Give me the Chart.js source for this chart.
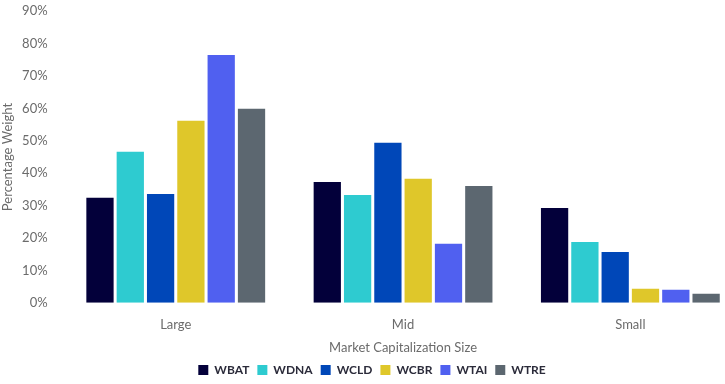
<!DOCTYPE html>
<html>
<head>
<meta charset="utf-8">
<script src="https://cdn.jsdelivr.net/npm/chart.js@4"></script>
<style>
  html, body { margin: 0; padding: 0; background: #fff; overflow: hidden; }
  #wrap { width: 755px; height: 389px; margin-top: -3px; }
</style>
</head>
<body>
<div id="wrap"><canvas id="barChart"></canvas></div>
<script>
// Data
const categories = ["Large", "Mid", "Small"];
const seriesNames = ["WBAT", "WDNA", "WCLD", "WCBR", "WTAI", "WTRE"];
const wbat = [32.4, 37.3, 29.3];
const wdna = [46.6, 33.3, 18.8];
const wcld = [33.6, 49.4, 15.7];
const wcbr = [56.2, 38.3, 4.3];
const wtai = [76.5, 18.2, 4.0];
const wtre = [59.9, 36.1, 2.8];
const seriesColors = ["#03003a", "#2ecbd0", "#0047b8", "#dfc72a", "#5060f0", "#5c6770"];

const seriesValues = [wbat, wdna, wcld, wcbr, wtai, wtre];

Chart.defaults.font.family = "Lato, 'Open Sans', sans-serif";
Chart.defaults.font.size = 13;
Chart.defaults.color = "#6b6b6b";

const barCtx = document.getElementById("barChart").getContext("2d");
const barChart = new Chart(barCtx, {
  type: "bar",
  data: {
    labels: categories,
    datasets: seriesNames.map((name, i) => ({
      label: name,
      data: seriesValues[i],
      backgroundColor: seriesColors[i],
      borderWidth: 0,
    })),
  },
  options: {
    responsive: true,
    maintainAspectRatio: false,
    animation: false,
    layout: {
      padding: { top: 0, left: 0, right: 11, bottom: 0 },
    },
    plugins: {
      legend: {
        position: "bottom",
        labels: {
          boxWidth: 10,
          boxHeight: 10,
          padding: 8,
          color: "#2b2b3a",
          font: { weight: "bold", size: 12 },
        },
      },
      tooltip: { enabled: false },
    },
    scales: {
      x: {
        grid: { display: false },
        border: { display: false },
        ticks: { padding: 6 },
        title: {
          display: true,
          text: "Market Capitalization Size",
          padding: { top: 2, bottom: 0 },
        },
      },
      y: {
        min: 0,
        max: 90,
        grid: { display: false },
        border: { display: false },
        ticks: {
          stepSize: 10,
          padding: 6.5,
          callback: (v) => v + "%",
        },
        title: {
          display: true,
          text: "Percentage Weight",
          padding: { top: 0, bottom: 0 },
        },
      },
    },
  },
});
</script>
</body>
</html>
